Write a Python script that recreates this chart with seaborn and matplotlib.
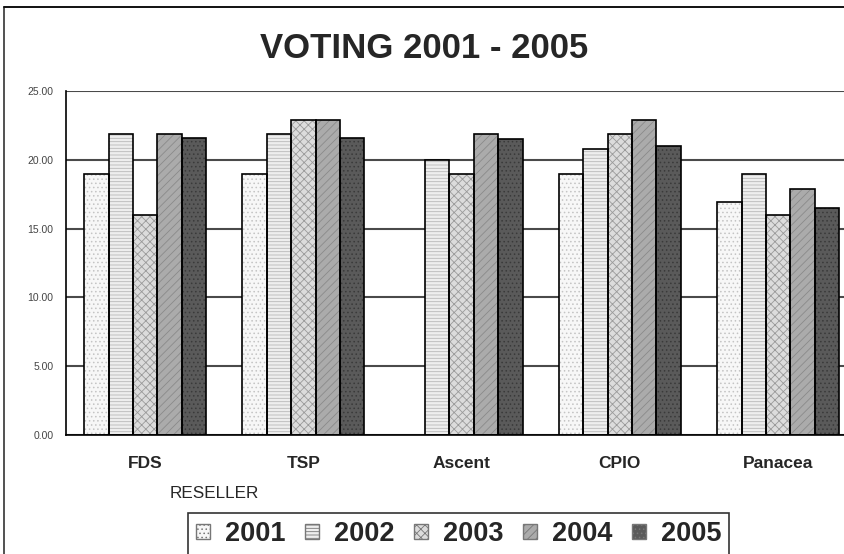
import numpy as np
import pandas as pd
import matplotlib
matplotlib.use("Agg")
import matplotlib.pyplot as plt
import matplotlib.patches as mpatches
from matplotlib.lines import Line2D
import seaborn as sns

# data
resellers = ["FDS", "TSP", "Ascent", "CPIO", "Panacea"]
years = ["2001", "2002", "2003", "2004", "2005"]
v2001 = [19.0, 19.0, np.nan, 19.0, 16.9]
v2002 = [21.9, 21.9, 20.0, 20.8, 19.0]
v2003 = [16.0, 22.9, 19.0, 21.9, 16.0]
v2004 = [21.9, 22.9, 21.9, 22.9, 17.9]
v2005 = [21.6, 21.6, 21.5, 21.0, 16.5]

fills = ["#f7f7f7", "#eeeeee", "#dcdcdc", "#ababab", "#5a5a5a"]
hatch_cols = ["#c4c4c4", "#b8b8b8", "#9a9a9a", "#8a8a8a", "#3a3a3a"]
hatches = ["....", "-----", "xxxx", "////", "...."]

df = pd.DataFrame({"RESELLER": resellers * 5,
                   "Year": np.repeat(years, 5),
                   "Votes": v2001 + v2002 + v2003 + v2004 + v2005})

sns.set_style("white")
plt.rcParams["font.family"] = ["Liberation Sans", "DejaVu Sans"]
plt.rcParams["hatch.linewidth"] = 0.6

fig = plt.figure(figsize=(8.44, 5.54), dpi=100)
ax = fig.add_axes([0.0782, 0.2148, 0.9375, 0.621])

sns.barplot(data=df, x="RESELLER", y="Votes", hue="Year", order=resellers,
            hue_order=years, palette=fills, width=0.77, ax=ax, legend=True)

for cont, hc, h in zip(ax.containers, hatch_cols, hatches):
    for p in cont.patches:
        p.set_edgecolor(hc)
        p.set_hatch(h)
        p.set_linewidth(0)
        if np.isfinite(p.get_height()) and p.get_height() > 0:
            ax.add_patch(mpatches.Rectangle(p.get_xy(), p.get_width(), p.get_height(),
                                            fill=False, ec="black", lw=1.2, zorder=3))

ax.set_ylim(0, 25)
ax.set_xlim(-0.5, 4.5)
ax.set_yticks(np.arange(0, 26, 5))
ax.set_yticklabels(["%.2f" % t for t in np.arange(0, 26, 5)], fontsize=7.5, color="#444444")
ax.yaxis.grid(True, color="#4a4a4a", lw=1.5)
ax.set_axisbelow(True)

ax.set_xticks([0.5, 1.5, 2.5, 3.5])
ax.set_xticklabels([])
ax.set_xticks(range(5), minor=True)
ax.set_xticklabels(resellers, minor=True, fontsize=12.5, fontweight="bold")
ax.tick_params(axis="x", which="minor", length=0, pad=15)
ax.tick_params(axis="x", which="major", direction="out", length=6, width=1, color="black")
ax.tick_params(axis="y", direction="inout", length=10, width=1, color="black", pad=4)

ax.set_xlabel("")
ax.set_ylabel("")
for s in ["top", "right"]:
    ax.spines[s].set_visible(False)
ax.spines["left"].set_color("black")
ax.spines["bottom"].set_color("black")
ax.spines["left"].set_linewidth(1.2)
ax.spines["bottom"].set_linewidth(1.2)

fig.text(0.254, 0.11, "RESELLER", fontsize=12.3, ha="center", va="center")
fig.text(0.503, 0.912, "VOTING 2001 - 2005", fontsize=25, fontweight="bold",
         ha="center", va="center")

handles, labels = ax.get_legend_handles_labels()
ax.get_legend().remove()
leg = fig.legend(handles, labels, loc="upper center", bbox_to_anchor=(0.5435, 0.074),
                 ncol=5, frameon=True, fancybox=False, edgecolor="black",
                 prop={"size": 19.5, "weight": "bold"}, handlelength=0.52,
                 handleheight=0.52, handletextpad=0.55, columnspacing=0.72,
                 borderpad=0.3, borderaxespad=0)
leg.get_frame().set_linewidth(1.2)
for h, hh, fc in zip(leg.legend_handles, hatches, fills):
    h.set_facecolor(fc)
    h.set_edgecolor("#777777")
    h.set_hatch(hh)
    h.set_linewidth(1.0)

# figure border (left and top)
fig.add_artist(Line2D([0.005, 0.005], [0, 0.987], color="#333333", lw=1.2))
fig.add_artist(Line2D([0.005, 1], [0.987, 0.987], color="#111111", lw=1.4))

fig.savefig("out.png", dpi=100)
